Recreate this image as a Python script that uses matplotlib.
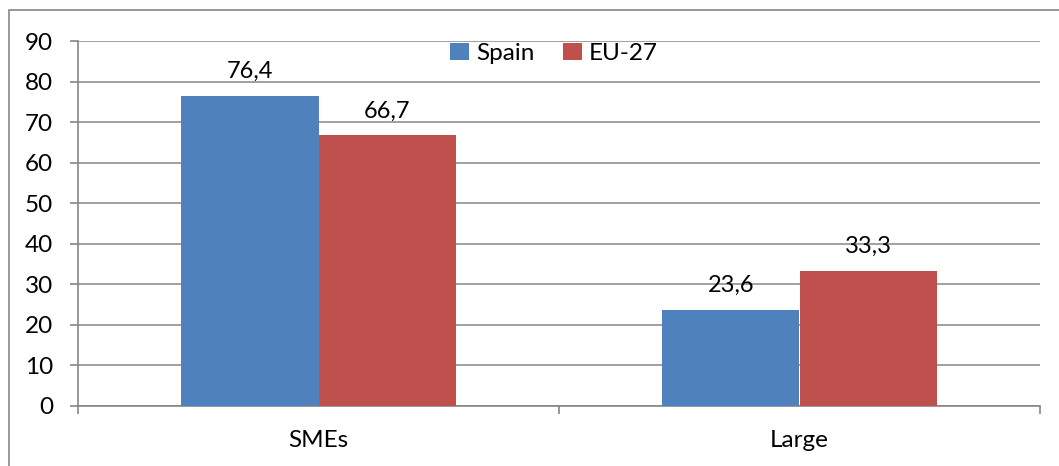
import numpy as np
import matplotlib
matplotlib.use("Agg")
import matplotlib.pyplot as plt
from matplotlib.patches import Rectangle

categories = ["SMEs", "Large"]
spain = [76.4, 23.6]
eu27 = [66.7, 33.3]
series_names = ["Spain", "EU-27"]
colors = ["#4F81BD", "#C0504D"]

plt.rcParams['font.family'] = ['Lato', 'DejaVu Sans']

fig = plt.figure(figsize=(10.59, 4.66), dpi=100)
ax = fig.add_axes([78 / 1059, 1 - 406 / 466, (1040 - 78) / 1059, (406 - 41) / 466])

# outer chart border (Excel style), right and bottom edges fall outside the image
fig.patches.append(Rectangle((9 / 1059, -0.1), 1.2, 1 - 10 / 466 + 0.1,
                             transform=fig.transFigure, fill=False,
                             edgecolor="#868686", linewidth=1.2))

x = np.arange(len(categories))
w = 0.285
for vals, off, name, col in [(spain, -w / 2, series_names[0], colors[0]),
                             (eu27, w / 2, series_names[1], colors[1])]:
    bars = ax.bar(x + off, vals, w, color=col, label=name, zorder=3)
    for b, v in zip(bars, vals):
        ax.annotate(f"{v:.1f}".replace(".", ","), (b.get_x() + b.get_width() / 2, v),
                    xytext=(0, 13), textcoords="offset points",
                    ha="center", va="baseline", fontsize=17)

ax.set_xlim(-0.5, 1.5)
ax.set_ylim(0, 90)
ax.set_yticks(range(0, 91, 10))
ax.grid(axis="y", color="#868686", linewidth=1.1, zorder=0)

ax.set_xticks(x)
ax.set_xticklabels(categories, fontsize=17.5)
ax.set_xticks([-0.5, 0.5, 1.5], minor=True)
ax.tick_params(axis="x", which="major", length=0, pad=17)
ax.tick_params(axis="x", which="minor", length=6, color="#868686", width=1.2)
ax.tick_params(axis="y", length=6, color="#868686", width=1.2, pad=12, labelsize=17.5)

for s in ["top", "right"]:
    ax.spines[s].set_visible(False)
for s in ["left", "bottom"]:
    ax.spines[s].set_color("#868686")
    ax.spines[s].set_linewidth(1.2)

ax.legend(loc="upper center", bbox_to_anchor=(0.495, 1.022), ncol=2, frameon=False,
          fontsize=17.5, handlelength=0.75, handleheight=0.75, handletextpad=0.3,
          columnspacing=1.2, borderaxespad=0)

fig.savefig("out.png", dpi=100)
